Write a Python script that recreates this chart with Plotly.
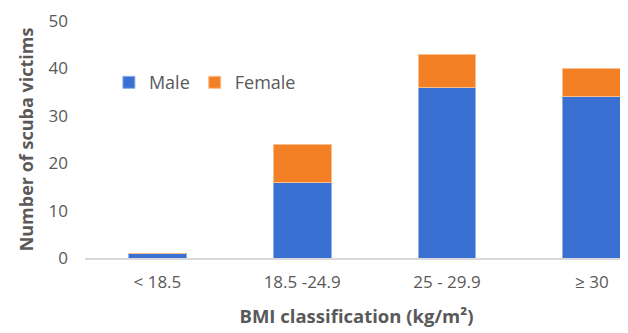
import plotly.graph_objects as go

categories = ["< 18.5", "18.5 -24.9", "25 - 29.9", "≥ 30"]
male = [1, 16, 36, 34]
female = [0, 8, 7, 6]
y_ticks = [0, 10, 20, 30, 40, 50]

fig = go.Figure()
fig.add_trace(go.Bar(x=categories, y=male, name="Male", marker=dict(color="#3A70D2", line=dict(color="#8FB0EA", width=1)), width=0.4))
fig.add_trace(go.Bar(x=categories, y=female, name="Female", marker=dict(color="#F48026", line=dict(color="#F9BE8E", width=1)), width=0.4))

fig.update_layout(
    barmode="stack",
    width=628, height=333,
    margin=dict(l=77, r=8, t=13, b=83),
    plot_bgcolor="white", paper_bgcolor="white",
    font=dict(family="Open Sans, sans-serif", color="#595959", size=17),
    legend=dict(orientation="h", x=0.044, y=0.74, xanchor="left", yanchor="middle",
                font=dict(size=18, color="#595959"), bgcolor="rgba(0,0,0,0)", traceorder="normal",
                itemwidth=30),
    showlegend=True,
)
fig.update_xaxes(
    type="category", range=[-0.5, 3.25], automargin=False,
    showline=True, linecolor="#D9D9D9", linewidth=1.5,
    ticks="", tickfont=dict(size=17, color="#595959"), ticklabelstandoff=8,
    title=dict(text="<b>BMI classification (kg/m²)</b>", font=dict(size=18.5, color="#595959"), standoff=18),
)
fig.update_yaxes(
    range=[0, 50], tickvals=y_ticks, showgrid=False, zeroline=False, showline=False, automargin=False,
    ticks="", tickfont=dict(size=17, color="#595959"), ticklabelstandoff=16,
    title=dict(text="<b>Number of scuba victims</b>", font=dict(size=18, color="#595959"), standoff=10),
)
fig.write_html("out.html")
